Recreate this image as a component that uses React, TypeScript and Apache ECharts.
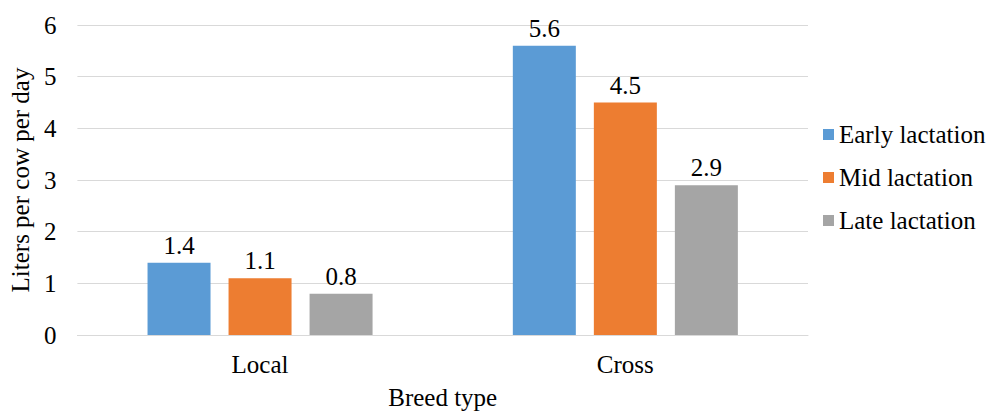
import React, { useEffect, useRef } from "react";
import * as echarts from "echarts";

// Daily milk yield by breed and lactation stage
const breeds = ["Local", "Cross"];
const earlyLactation = [1.4, 5.6];
const midLactation = [1.1, 4.5];
const lateLactation = [0.8, 2.9];
const seriesNames = ["Early lactation", "Mid lactation", "Late lactation"];
const seriesColors = ["#5B9BD5", "#ED7D31", "#A5A5A5"];

const FONT = "Liberation Serif";
const SIZE = 25;

export default function App() {
  const ref = useRef<HTMLDivElement>(null);

  useEffect(() => {
    if (!ref.current) return;
    const chart = echarts.init(ref.current, undefined, { renderer: "svg" });
    const values = [earlyLactation, midLactation, lateLactation];
    const text = { fontFamily: FONT, fontSize: SIZE, color: "#000" };

    chart.setOption({
      animation: false,
      backgroundColor: "#ffffff",
      textStyle: { fontFamily: FONT, color: "#000" },
      grid: { left: 74, right: 179, top: 25, bottom: 72 },
      legend: {
        orient: "vertical",
        left: 823,
        top: 122,
        padding: 0,
        itemWidth: 11,
        itemHeight: 11,
        itemGap: 18,
        icon: "rect",
        textStyle: text,
        data: seriesNames,
      },
      xAxis: {
        type: "category",
        data: breeds,
        name: "Breed type",
        nameLocation: "middle",
        nameGap: 50,
        nameTextStyle: text,
        axisLine: { lineStyle: { color: "#D9D9D9", width: 1 } },
        axisTick: { show: false },
        axisLabel: { ...text, margin: 17 },
      },
      yAxis: {
        type: "value",
        min: 0,
        max: 6,
        interval: 1,
        name: "Liters per cow per day",
        nameLocation: "middle",
        nameGap: 44,
        nameTextStyle: text,
        axisLine: { show: false },
        axisTick: { show: false },
        splitLine: { lineStyle: { color: "#D9D9D9", width: 1 } },
        axisLabel: { ...text, margin: 21 },
      },
      series: seriesNames.map((name, i) => ({
        name,
        type: "bar",
        data: values[i],
        barWidth: 63,
        barGap: "28.6%",
        itemStyle: { color: seriesColors[i] },
        label: {
          show: true,
          position: "top",
          distance: 5,
          ...text,
          formatter: (p: any) => Number(p.value).toFixed(1),
        },
      })),
    });

    return () => chart.dispose();
  }, []);

  return (
    <div
      ref={ref}
      style={{ position: "fixed", left: 0, top: 0, width: 987, height: 415 }}
    />
  );
}
